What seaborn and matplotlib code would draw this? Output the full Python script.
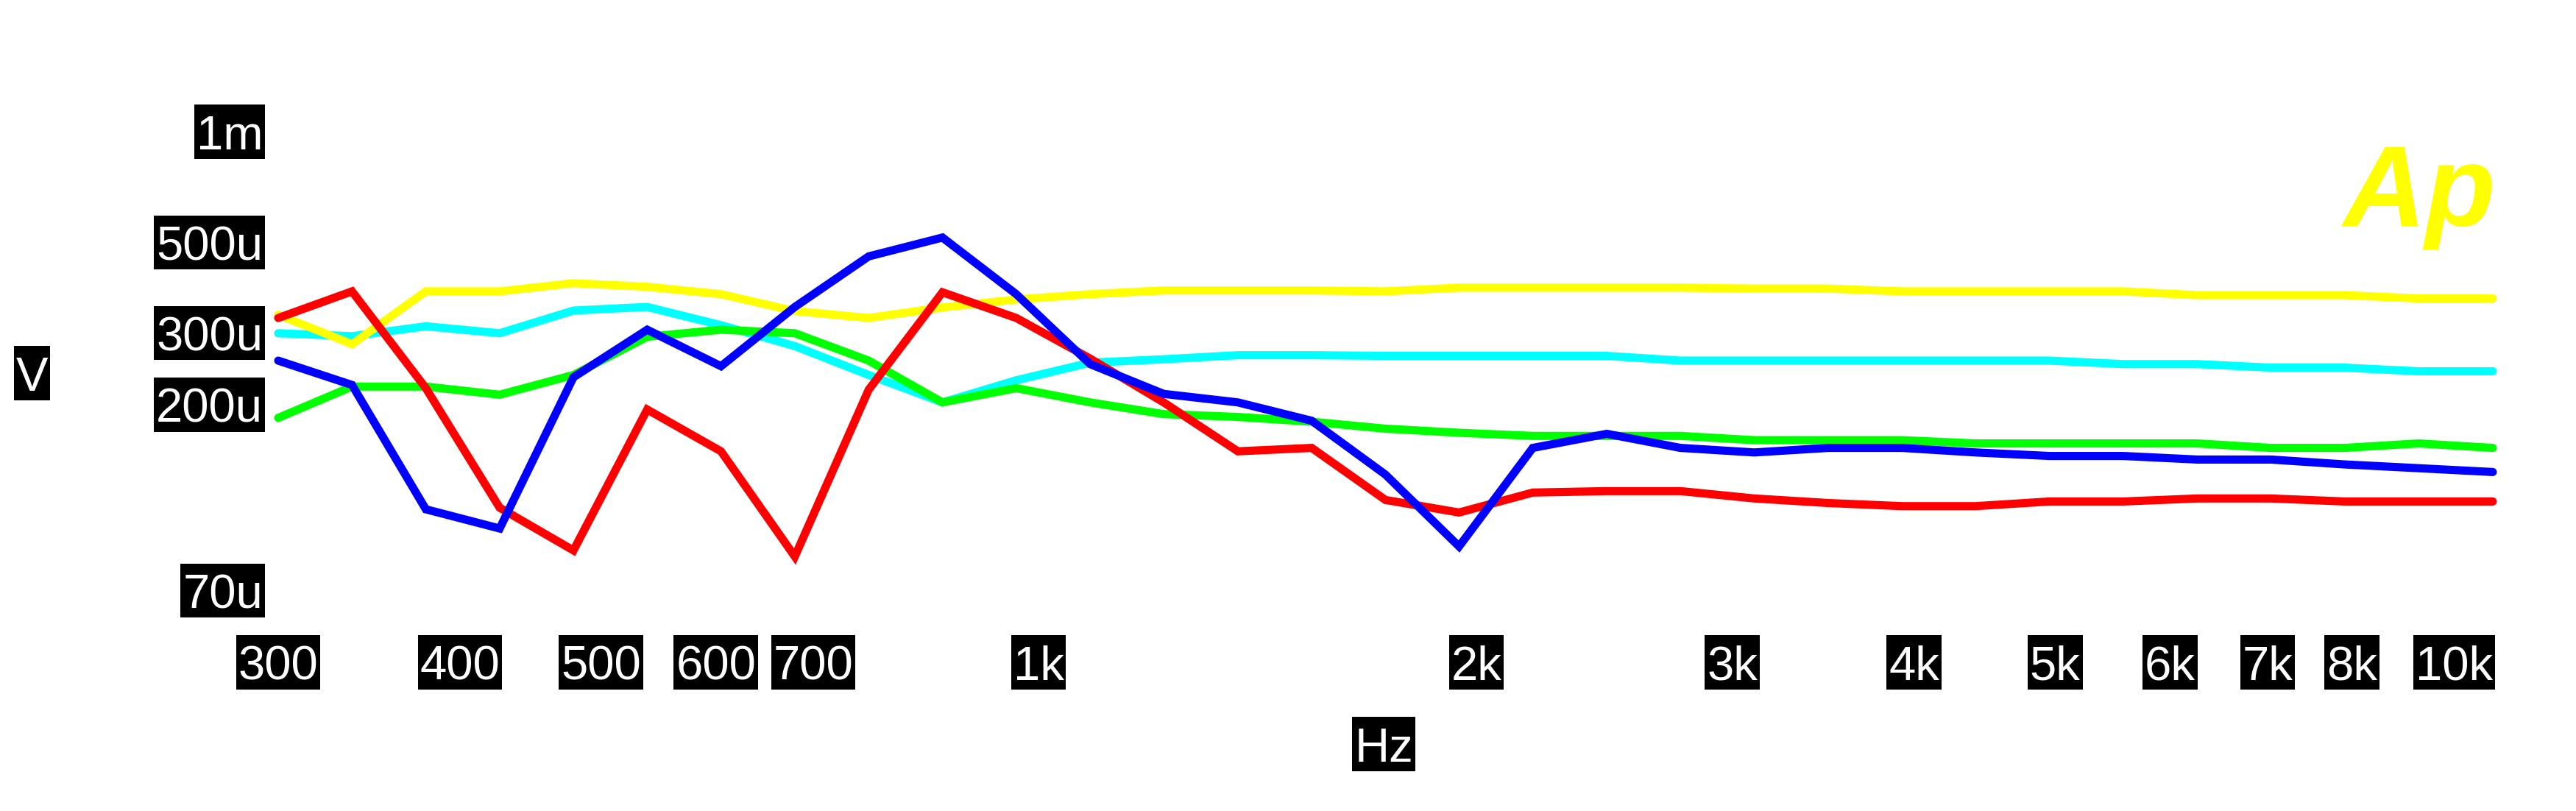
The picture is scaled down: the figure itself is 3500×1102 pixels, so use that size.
import pandas as pd
import seaborn as sns
import matplotlib.pyplot as plt
import matplotlib.transforms as mtransforms
from matplotlib.path import Path
from matplotlib.ticker import NullLocator

freq_hz = [300, 337.2, 379.0, 426.0, 478.8, 538.1, 604.8, 679.8, 764.1, 858.8,
           965.3, 1085, 1219, 1371, 1541, 1732, 1946, 2187, 2459, 2763,
           3106, 3491, 3924, 4410, 4957, 5571, 6262, 7038, 7910, 8891, 10000]

# levels in microvolts, one list per trace
cyan_uv = [300, 295, 312, 300, 341, 348, 314, 279, 237, 203,
           230, 254, 259, 265, 265, 264, 264, 264, 264, 257,
           257, 257, 257, 257, 257, 252, 252, 247, 247, 242, 242]
yellow_uv = [333, 282, 380, 380, 398, 390, 374, 340, 327, 347,
             363, 374, 382, 382, 382, 380, 388, 388, 388, 388,
             386, 386, 380, 380, 380, 380, 372, 372, 372, 365, 365]
green_uv = [186, 222, 222, 212, 237, 294, 306, 300, 257, 203,
            220, 203, 190, 187, 182, 175, 171, 168, 168, 168,
            164, 164, 164, 161, 161, 161, 161, 157, 157, 161, 157]
red_uv = [327, 380, 220, 112, 88, 195, 154, 85, 218, 378,
          327, 260, 203, 154, 157, 117, 109, 122, 123, 123,
          118, 115, 113, 113, 116, 116, 118, 118, 116, 116, 116]
blue_uv = [257, 224, 111, 99.6, 234, 306, 249, 348, 463, 515,
           374, 252, 213, 203, 183, 135, 90, 157, 170, 157,
           153, 157, 157, 153, 150, 150, 147, 147, 143, 140, 137]

trace_names = ["cyan", "yellow", "green", "red", "blue"]
trace_colors = ["#00FFFF", "#FFFF00", "#00FF00", "#FF0000", "#0000FF"]

x_ticks = [300, 400, 500, 600, 700, 1000, 2000, 3000, 4000, 5000, 6000, 7000, 8000, 10000]
x_labels = ["300", "400", "500", "600", "700", "1k", "2k", "3k", "4k", "5k", "6k", "7k", "8k", "10k"]
y_ticks = [70e-6, 200e-6, 300e-6, 500e-6, 1e-3]
y_labels = ["70u", "200u", "300u", "500u", "1m"]


class LabelBox:
    """Black label plate like the AP screen: tight on the sides, tall top and bottom."""
    def __init__(self, padx=0.045, top=0.21, bottom=0.0):
        self.padx = padx
        self.top = top
        self.bottom = bottom

    def __call__(self, x0, y0, width, height, mutation_size):
        px = self.padx * mutation_size
        left, right = x0 - px, x0 + width + px
        low = y0 - self.bottom * mutation_size
        high = y0 + height + self.top * mutation_size
        return Path([(left, low), (right, low), (right, high), (left, high), (left, low)],
                    closed=True)


def ap_plot():
    series = [cyan_uv, yellow_uv, green_uv, red_uv, blue_uv]
    frames = []
    for name, vals in zip(trace_names, series):
        frames.append(pd.DataFrame({
            "Hz": freq_hz,
            "V": [v * 1e-6 for v in vals],
            "trace": name,
        }))
    df = pd.concat(frames, ignore_index=True)

    sns.set_style("white")
    plt.rcParams["font.family"] = ["Liberation Sans", "DejaVu Sans"]

    fig = plt.figure(figsize=(35, 11.02), dpi=100)
    ax = fig.add_axes([0.108, 0.2377, 0.8597, 0.6143])
    ax.set_xscale("log")
    ax.set_yscale("log")

    sns.lineplot(data=df, x="Hz", y="V", hue="trace", hue_order=trace_names,
                 palette=dict(zip(trace_names, trace_colors)), estimator=None,
                 sort=False, legend=False, linewidth=8,
                 solid_capstyle="round", solid_joinstyle="miter", ax=ax)
    for line in ax.lines:
        line.set_clip_on(False)

    ax.set_xlim(300, 10000)
    ax.set_ylim(60e-6, 1e-3)
    for side in ["left", "right", "top", "bottom"]:
        ax.spines[side].set_visible(False)
    ax.grid(False)

    ax.set_xticks(x_ticks)
    ax.set_xticklabels(x_labels)
    ax.set_yticks(y_ticks)
    ax.set_yticklabels(y_labels)
    ax.xaxis.set_minor_locator(NullLocator())
    ax.yaxis.set_minor_locator(NullLocator())
    ax.tick_params(axis="both", length=0, labelsize=47, labelcolor="white")
    ax.tick_params(axis="x", pad=26.5)
    ax.tick_params(axis="y", pad=15)

    box = dict(boxstyle=LabelBox(), facecolor="black", edgecolor="none")
    for lbl in ax.get_xticklabels() + ax.get_yticklabels():
        lbl.set_bbox(box)
    ax.get_xticklabels()[-1].set_ha("right")

    # top label sits a bit lower than its gridline in the original
    top_lbl = ax.yaxis.get_major_ticks()[-1].label1
    top_lbl.set_transform(top_lbl.get_transform() +
                          mtransforms.ScaledTranslation(0, -0.16, fig.dpi_scale_trans))

    ax.set_xlabel("Hz", fontsize=47, color="white", bbox=box, va="center", ha="center")
    ax.xaxis.set_label_coords(0.4992, -0.2629)
    ax.set_ylabel("V", fontsize=47, color="white", bbox=box, rotation=0,
                  va="center", ha="center")
    ax.yaxis.set_label_coords(-0.1112, 0.4815)

    # Audio Precision logo
    fig.text(0.9094, 0.7214, "Ap", color="#FFFF00", fontsize=112,
             fontweight="bold", fontstyle="italic", ha="left", va="baseline")

    plt.savefig("out.png", dpi=100, facecolor="white")


if __name__ == "__main__":
    ap_plot()
